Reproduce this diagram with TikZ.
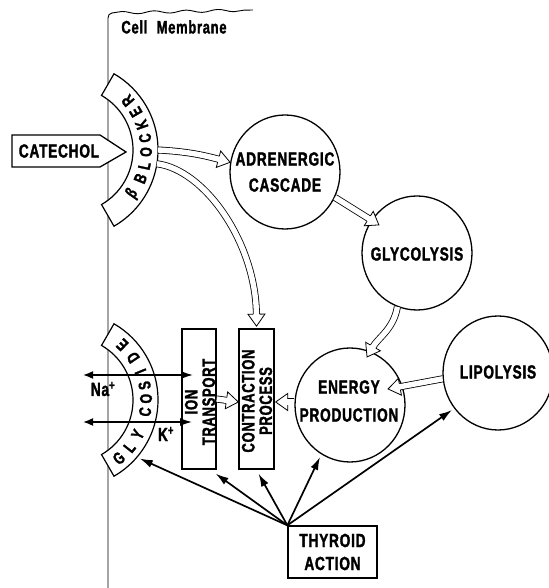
\documentclass[tikz,border=0pt]{standalone}
\usepackage{fontspec}
\newfontfamily\lab{Liberation Sans Bold}[FakeStretch=0.72,FakeBold=1.6,LetterSpace=4]
\usetikzlibrary{shapes.geometric,arrows.meta,decorations.markings,decorations.pathmorphing,calc}
\newcommand\hhead{\filldraw[fill=white,line width=0.8pt,line join=miter] (-12pt,3.1pt) -- (-12pt,8.5pt) -- (0pt,0pt) -- (-12pt,-8.5pt) -- (-12pt,-3.1pt);}
\begin{document}
\begin{tikzpicture}[x=1pt,y=1pt,
  lbl/.style={font=\lab\fontsize{19}{26}\selectfont, align=center, inner sep=0pt},
  boxtxt/.style={font=\lab\fontsize{18}{17.5}\selectfont, align=center, inner sep=0pt},
  arcl/.style={font=\lab\fontsize{17}{18}\selectfont, inner sep=0pt},
  circ/.style={ellipse, draw, line width=1.3pt, minimum width=110pt, minimum height=114pt, inner sep=0pt},
  box/.style={draw, line width=1.3pt, fill=white, inner sep=0pt},
  band/.style={draw, line width=1.2pt, fill=white},
  memb/.style={line width=0.9pt},
  hollow/.style={preaction={draw, line width=0.8pt, double=white, double distance=5.4pt, shorten >=11pt},
     postaction={decorate, decoration={markings, mark=at position 0.999 with {\hhead}}}},
  thyarr/.style={line width=1.7pt, -{Latex[length=13pt,width=8pt]}},
  nkarr/.style={line width=1.6pt, {Latex[length=10pt,width=8pt]}-{Latex[length=12pt,width=8pt]}}
]
\useasboundingbox (0,0) rectangle (548,588);
% membrane
\coordinate (m0) at (108,0);
\coordinate (m1) at (108,570);
\coordinate (m2) at (112,575);
\coordinate (m3) at (253,578);
\draw[memb] (m0) -- (m1) to[out=90,in=180] (m2);
\draw[memb, decorate, decoration={snake, amplitude=1.3pt, segment length=32pt}] (m2) -- (m3);
\node[lbl, font=\lab\fontsize{18}{18}\selectfont] (cm) at (174,561) {Cell\hspace{5pt} Membrane};
% bands
\coordinate (bc) at (70,438);
\coordinate (gc) at (70,188);
\draw[band] ($(bc)+(-60:88)$) arc[start angle=-60,end angle=60,radius=88pt] -- ($(bc)+(60:63)$) arc[start angle=60,end angle=-60,radius=63pt] -- cycle;
\draw[band] ($(gc)+(-60:88)$) arc[start angle=-60,end angle=60,radius=88pt] -- ($(gc)+(60:63)$) arc[start angle=60,end angle=-60,radius=63pt] -- cycle;
\foreach \a/\l [count=\i] in {-35/β, -22/B, -12/L, -1.5/O, 9/C, 19.5/K, 30/E, 40.5/R}
  \node[arcl, rotate=\a+90] (bk\i) at ($(bc)+(\a:76)$) {\l};
\foreach \a/\l [count=\i] in {-50/G, -38.5/L, -27/Y, -9/C, 1/O, 11/S, 22/I, 34/D, 46.5/E}
  \node[arcl, rotate=\a+90] (gk\i) at ($(gc)+(\a:76)$) {\l};
% catechol
\draw[band, line width=1.3pt] (12,453) -- (100,453) -- (126,436) -- (100,421) -- (12,421) -- cycle;
\node[lbl] (cat) at (59,437) {CATECHOL};
% circles
\node[circ] (adr) at (285,416) {};
\node[lbl] (adrT) at (285,416) {ADRENERGIC\\CASCADE};
\node[circ] (gly) at (417,335) {};
\node[lbl] (glyT) at (417,334) {GLYCOLYSIS};
\node[circ] (ene) at (350,183) {};
\node[lbl, font=\lab\fontsize{19}{28}\selectfont] (eneT) at (349,187) {ENERGY\\PRODUCTION};
\node[circ] (lip) at (498,215) {};
\node[lbl] (lipT) at (498,216) {LIPOLYSIS};
% boxes
\node[box, minimum width=34pt, minimum height=140pt] (ion) at (199,189) {};
\node[boxtxt, rotate=90] (ionT) at (200,186) {ION\\TRANSPORT};
\node[box, minimum width=35pt, minimum height=140pt] (con) at (256.5,189) {};
\node[boxtxt, rotate=90] (conT) at (257,187) {CONTRACTION\\PROCESS};
\node[box, minimum width=89pt, minimum height=52pt, font=\lab\fontsize{19}{23}\selectfont, align=center] (thy) at (332.5,36) {THYROID\\ACTION};
% hollow arrows
\path[hollow] ($(bc)+(0:88)$) to[out=-3,in=165] (adr.170);
\coordinate (conTop) at ($(con.north)+(0,2)$);
\path[hollow] ($(bc)+(-9:88)$) .. controls (205,418) and (256,345) .. (conTop);
\coordinate (glyTip) at ($(gly.center)+(-38,28)$);
\path[hollow] (adr.-27) -- (glyTip);
\coordinate (eneTip1) at ($(ene.center)+(17,48)$);
\path[hollow] (gly.250) to[out=-100,in=60] (eneTip1);
\coordinate (eneTip2) at ($(ene.center)+(38,16)$);
\path[hollow] (lip.186) -- (eneTip2);
\path[hollow] ($(ene.west)+(0,3)$) -- ($(con.east)+(1,-3)$);
\path[hollow] ($(ion.east)+(0,0)$) -- ($(con.west)+(0,-3)$);
% thyroid arrows
\coordinate (tg) at ($(gc)+(-40:91)$);
\draw[thyarr] (thy.north west) -- (tg);
\draw[thyarr] (thy.north west) -- ($(ion.south east)+(-1,-4)$);
\draw[thyarr] (thy.north west) -- ($(con.south)+(2,-4)$);
\draw[thyarr] (thy.north west) -- ($(ene.center)+(-30,-52)$);
\draw[thyarr] (thy.north west) -- ($(lip.center)+(-46,-37)$);
% ions
\coordinate (naL) at (83,213);
\coordinate (naR) at (193,213);
\coordinate (kL) at (83,166);
\coordinate (kR) at (192,166);
\draw[nkarr] (naL) -- (naR);
\draw[nkarr] (kL) -- (kR);
\node[lbl] (naT) at (103,199) {Na\textsuperscript{+}};
\node[lbl] (kT) at (166,154) {K\textsuperscript{+}};
\end{tikzpicture}
\end{document}
